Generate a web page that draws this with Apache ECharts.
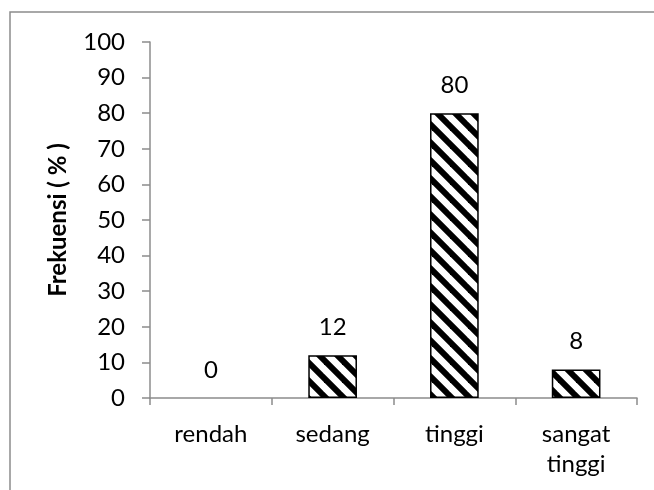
<!DOCTYPE html>
<html>
<head>
<meta charset="utf-8">
<script src="https://cdn.jsdelivr.net/npm/echarts@6/dist/echarts.min.js"></script>
<style>
html,body{margin:0;padding:0;background:#fff;}
#c{width:654px;height:490px;}
</style>
</head>
<body>
<div id="c"></div>
<script>
var categories = ['rendah', 'sedang', 'tinggi', 'sangat\ntinggi'];
var values = [0, 12, 80, 8];
var yTicks = [0, 10, 20, 30, 40, 50, 60, 70, 80, 90, 100];
var yTitle = 'Frekuensi ( % )';

function stripePattern() {
  var s = 18;
  var cv = document.createElement('canvas');
  cv.width = s; cv.height = s;
  var ctx = cv.getContext('2d');
  ctx.fillStyle = '#fff';
  ctx.fillRect(0, 0, s, s);
  ctx.strokeStyle = '#000';
  ctx.lineWidth = 6;
  [-s, 0, s].forEach(function (o) {
    ctx.beginPath();
    ctx.moveTo(o - 3, -3);
    ctx.lineTo(o + s + 3, s + 3);
    ctx.stroke();
  });
  return cv;
}

var barData = values.map(function (v) {
  return v === 0 ? { value: v, itemStyle: { borderWidth: 0 } } : v;
});

var chart = echarts.init(document.getElementById('c'));
var font = 'Lato, "Open Sans", sans-serif';
chart.setOption({
  animation: false,
  textStyle: { fontFamily: font },
  grid: { left: 150, right: 17, top: 42, bottom: 92 },
  graphic: [{
    type: 'rect',
    shape: { x: 10, y: 12, width: 700, height: 600 },
    style: { fill: 'none', stroke: '#8c8c8c', lineWidth: 1.5 },
    silent: true
  }],
  xAxis: {
    type: 'category',
    data: categories,
    axisLine: { lineStyle: { color: '#8c8c8c', width: 1.5 } },
    axisTick: { show: true, length: 7, lineStyle: { color: '#8c8c8c', width: 1.5 } },
    axisLabel: { color: '#000', fontSize: 24, fontFamily: font, margin: 21, lineHeight: 30 }
  },
  yAxis: {
    type: 'value',
    min: yTicks[0],
    max: yTicks[yTicks.length - 1],
    interval: yTicks[1] - yTicks[0],
    name: yTitle,
    nameLocation: 'middle',
    nameGap: 80,
    nameRotate: 90,
    nameTextStyle: { color: '#000', fontSize: 24, fontWeight: 'bold', fontFamily: font },
    axisLine: { show: true, lineStyle: { color: '#8c8c8c', width: 1.5 } },
    axisTick: { show: true, length: 8, lineStyle: { color: '#8c8c8c', width: 1.5 } },
    axisLabel: { color: '#000', fontSize: 24, fontFamily: font, margin: 25 },
    splitLine: { show: false }
  },
  series: [{
    type: 'bar',
    data: barData,
    barWidth: '40%',
    itemStyle: {
      color: { image: stripePattern(), repeat: 'repeat' },
      borderColor: '#000',
      borderWidth: 1.5
    },
    label: {
      show: true,
      position: 'top',
      distance: 16,
      color: '#000',
      fontSize: 24,
      fontFamily: font
    }
  }]
});
</script>
</body>
</html>
